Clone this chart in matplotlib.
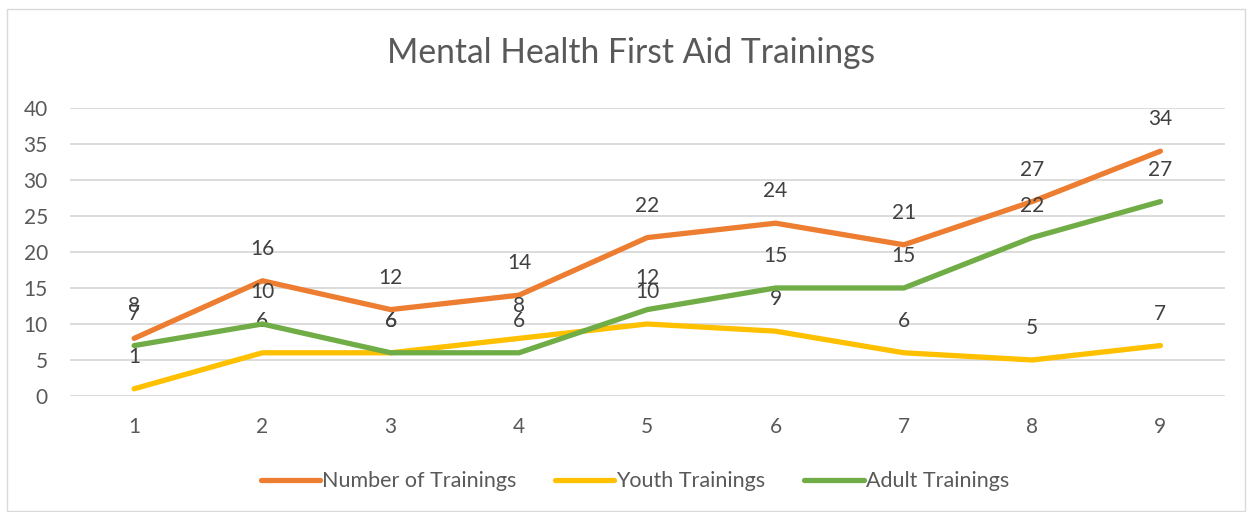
import matplotlib
matplotlib.use("Agg")
import matplotlib.pyplot as plt
from matplotlib.patches import Rectangle

# data
x = [1, 2, 3, 4, 5, 6, 7, 8, 9]
total = [8, 16, 12, 14, 22, 24, 21, 27, 34]
youth = [1, 6, 6, 8, 10, 9, 6, 5, 7]
adult = [7, 10, 6, 6, 12, 15, 15, 22, 27]

series = [
    ("Number of Trainings", total, "#ED7D31"),
    ("Youth Trainings", youth, "#FFC000"),
    ("Adult Trainings", adult, "#70AD47"),
]

plt.rcParams['font.family'] = ['Lato', 'DejaVu Sans']
text_col = "#595959"

fig = plt.figure(figsize=(12.52, 5.12), dpi=100)
ax = fig.add_axes([0.0559, 0.2266, 0.9222, 0.5625])

for name, vals, col in series:
    ax.plot(x, vals, color=col, lw=3.8, label=name,
            solid_capstyle='round', solid_joinstyle='round', zorder=3)
    for xi, v in zip(x, vals):
        ax.annotate(str(v), (xi, v), xytext=(0, 23), textcoords='offset points',
                    ha='center', va='center', fontsize=15, color="#404040")

ax.set_xlim(0.5, 9.5)
ax.set_ylim(0, 40)
ax.set_yticks(range(0, 41, 5))
ax.set_xticks(x)
ax.grid(axis='y', color="#D9D9D9", lw=1.3)
ax.set_axisbelow(True)
for s in ax.spines.values():
    s.set_visible(False)
ax.tick_params(length=0, labelsize=15, labelcolor=text_col)
ax.tick_params(axis='x', pad=15)
ax.tick_params(axis='y', pad=16)

fig.text(0.504, 0.896, "Mental Health First Aid Trainings", ha='center', va='center',
         fontsize=24.2, color=text_col)

leg = fig.legend(loc='center', bbox_to_anchor=(0.507, 0.06), ncol=3, frameon=False,
                 fontsize=15.5, handlelength=2.75, handletextpad=0.1, columnspacing=1.8)
for t in leg.get_texts():
    t.set_color(text_col)

fig.patches.append(Rectangle((7 / 1252, 0.002), 1 - 14 / 1252, 1 - 10 / 512,
                             transform=fig.transFigure, fill=False,
                             edgecolor="#D9D9D9", lw=1))

fig.savefig("out.png", dpi=100)
